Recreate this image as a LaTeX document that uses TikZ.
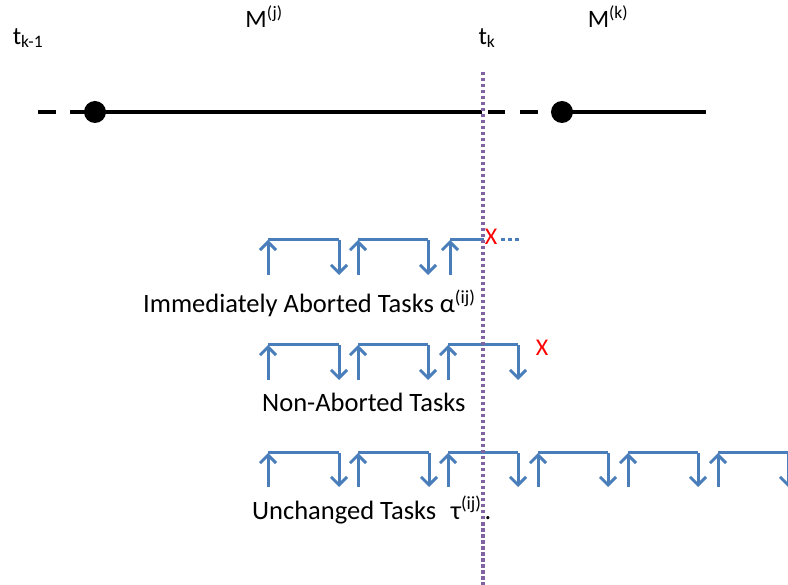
\documentclass[tikz,border=0pt]{standalone}
\usepackage{fontspec}
\setmainfont{Carlito}
\usetikzlibrary{arrows.meta}
\definecolor{taskblue}{HTML}{4A7EBB}
\definecolor{cutpurple}{HTML}{8064A2}
\tikzset{
  tl/.style={line width=4pt, black},
  dotnode/.style={circle, fill=black, inner sep=0pt, minimum size=22pt},
  lbl/.style={font=\fontsize{25}{29}\selectfont, inner sep=0pt},
  tasklbl/.style={font=\fontsize{26.5}{30}\selectfont, inner sep=0pt},
  xmark/.style={font=\fontsize{24}{28}\selectfont, text=red, inner sep=0pt},
  taskline/.style={line width=3pt, taskblue},
  taskarrow/.style={line width=3pt, taskblue, -{Straight Barb[length=8pt,width=16pt]}},
}
\begin{document}
\begin{tikzpicture}[x=1pt,y=-1pt]
\useasboundingbox (0,0) rectangle (788,585);
% labels
\node[lbl] (tkm) at (28,38) {t\textsubscript{k-1}};
\node[lbl] (Mj) at (264,17) {M\textsuperscript{(j)}};
\node[lbl] (tk) at (487,38) {t\textsubscript{k}};
\node[lbl] (Mk) at (608,17) {M\textsuperscript{(k)}};
% timeline
\coordinate (a1) at (38,112); \coordinate (a2) at (56,112);
\coordinate (b1) at (70,112); \coordinate (b2) at (482,112);
\coordinate (c1) at (488,112); \coordinate (c2) at (505,112);
\coordinate (d1) at (520,112); \coordinate (d2) at (538,112);
\coordinate (e1) at (562,112); \coordinate (e2) at (706,112);
\draw[tl] (a1) -- (a2);
\draw[tl] (b1) -- (b2);
\draw[tl] (c1) -- (c2);
\draw[tl] (d1) -- (d2);
\draw[tl] (e1) -- (e2);
\node[dotnode] (dj) at (95,112) {};
\node[dotnode] (dk) at (562,112) {};
% row 1
\foreach \u/\d in {268/339, 358/428}{
  \coordinate (r1u) at (\u,275); \coordinate (r1ut) at (\u,240);
  \coordinate (r1d) at (\d,240); \coordinate (r1db) at (\d,275);
  \draw[taskarrow] (r1u) -- (r1ut);
  \draw[taskline] (r1ut) -- (r1d);
  \draw[taskarrow] (r1d) -- (r1db);
}
\coordinate (r1u3) at (450,275); \coordinate (r1u3t) at (450,240);
\coordinate (r1end) at (484,240);
\draw[taskarrow] (r1u3) -- (r1u3t);
\draw[taskline] (r1u3t) -- (r1end);
\coordinate (r1dot1) at (501,240); \coordinate (r1dot2) at (521,240);
\draw[taskline, dash pattern=on 3.5pt off 3.5pt] (r1dot1) -- (r1dot2);
\node[xmark] (x1) at (491,237) {X};
\node[tasklbl, anchor=west] (lab1) at (143,303) {Immediately Aborted Tasks α\textsuperscript{(ij)}};
% row 2
\foreach \u/\d in {268/339, 358/428, 448/518}{
  \coordinate (r2u) at (\u,380); \coordinate (r2ut) at (\u,345);
  \coordinate (r2d) at (\d,345); \coordinate (r2db) at (\d,380);
  \draw[taskarrow] (r2u) -- (r2ut);
  \draw[taskline] (r2ut) -- (r2d);
  \draw[taskarrow] (r2d) -- (r2db);
}
\node[xmark] (x2) at (542,348) {X};
\node[tasklbl, anchor=west] (lab2) at (262,402) {Non-Aborted Tasks};
% row 3
\foreach \u/\d in {268/339, 358/429, 448/518, 538/608, 628/698, 718/788}{
  \coordinate (r3u) at (\u,487); \coordinate (r3ut) at (\u,453);
  \coordinate (r3d) at (\d,453); \coordinate (r3db) at (\d,487);
  \draw[taskarrow] (r3u) -- (r3ut);
  \draw[taskline] (r3ut) -- (r3d);
  \draw[taskarrow] (r3d) -- (r3db);
}
\node[tasklbl, anchor=west] (lab3) at (252,510) {Unchanged Tasks\hspace{0.55em}τ\textsuperscript{(ij)}\kern3pt.};
% cut line
\coordinate (cutTop) at (483,72); \coordinate (cutBot) at (483,585);
\draw[cutpurple, line width=4pt, dash pattern=on 3.5pt off 2.5pt] (cutTop) -- (cutBot);
\end{tikzpicture}
\end{document}
